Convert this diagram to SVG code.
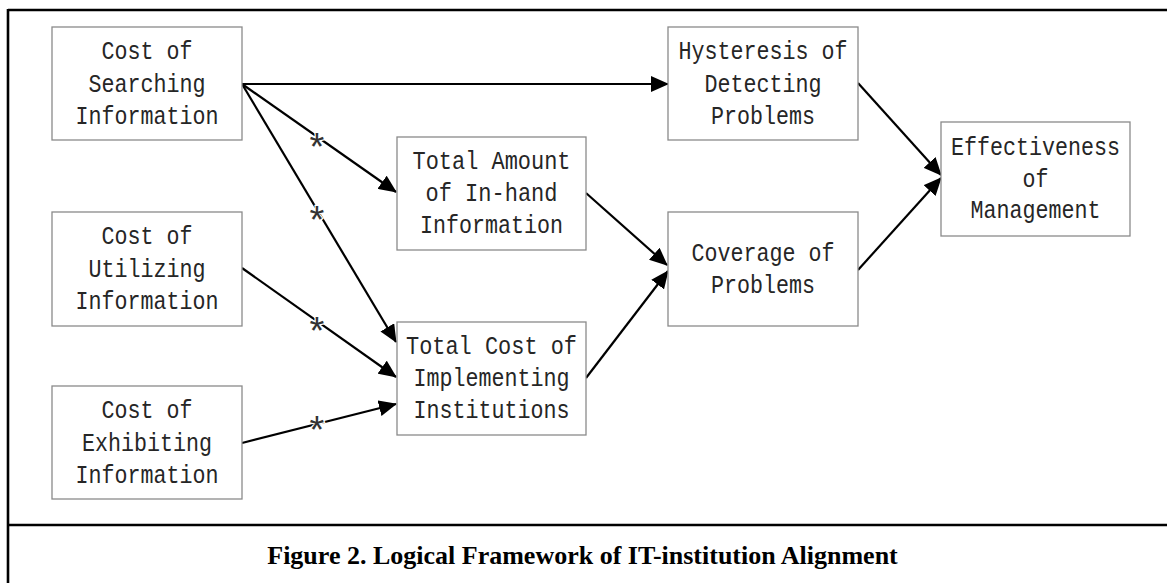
<svg xmlns="http://www.w3.org/2000/svg" width="1167" height="583" viewBox="0 0 1167 583">
  <style>
    .box { fill: #ffffff; stroke: #8a8a8a; stroke-width: 1.3; }
    .lbl { font-family: "Liberation Mono", "DejaVu Sans Mono", monospace; font-size: 26.5px; fill: #262626; text-anchor: middle; }
    .edge { fill: none; stroke: #000000; stroke-width: 2.2; marker-end: url(#head); }
    .star { font-family: "Liberation Mono", "DejaVu Sans Mono", monospace; font-size: 38px; fill: #333333; text-anchor: middle; stroke: #ffffff; stroke-width: 2.5; paint-order: stroke; }
    .frame { stroke: #000000; stroke-width: 2.6; fill: none; }
    .caption { font-family: "Liberation Serif", "Times New Roman", serif; font-weight: bold; font-size: 26px; fill: #000000; text-anchor: middle; }
  </style>
  <defs>
    <marker id="head" markerUnits="userSpaceOnUse" markerWidth="18" markerHeight="16" refX="17" refY="8" orient="auto">
      <path d="M0,0 L18,8 L0,16 z" fill="#000000"/>
    </marker>
  </defs>
  <rect width="1167" height="583" fill="#ffffff"/>

  <!-- outer frame and caption divider -->
  <g id="frame">
    <line class="frame" x1="8" y1="10" x2="1167" y2="10"/>
    <line class="frame" x1="8" y1="9" x2="8" y2="583"/>
    <line class="frame" x1="8" y1="525" x2="1167" y2="525"/>
  </g>

  <!-- connectors -->
  <g id="connectors">
    <line class="edge" x1="242" y1="84" x2="668" y2="84"/>
    <line class="edge" x1="242" y1="84" x2="396" y2="192"/>
    <line class="edge" x1="242" y1="84" x2="396" y2="342"/>
    <line class="edge" x1="242" y1="268" x2="396" y2="377"/>
    <line class="edge" x1="242" y1="443" x2="396" y2="404"/>
    <line class="edge" x1="586" y1="193" x2="667" y2="265"/>
    <line class="edge" x1="586" y1="378" x2="668" y2="271"/>
    <line class="edge" x1="858" y1="83" x2="941" y2="175"/>
    <line class="edge" x1="858" y1="270" x2="941" y2="178"/>
    <text class="star" x="317" y="161">*</text>
    <text class="star" x="317" y="234">*</text>
    <text class="star" x="317" y="345">*</text>
    <text class="star" x="317" y="444">*</text>
  </g>

  <g id="cost-searching">
    <rect class="box" x="52" y="27" width="190" height="113"/>
    <text class="lbl" x="147" y="59" textLength="91" lengthAdjust="spacingAndGlyphs">Cost of</text>
    <text class="lbl" x="147" y="91.5" textLength="117" lengthAdjust="spacingAndGlyphs">Searching</text>
    <text class="lbl" x="147" y="124" textLength="143" lengthAdjust="spacingAndGlyphs">Information</text>
  </g>

  <g id="cost-utilizing">
    <rect class="box" x="52" y="212" width="190" height="114"/>
    <text class="lbl" x="147" y="244" textLength="91" lengthAdjust="spacingAndGlyphs">Cost of</text>
    <text class="lbl" x="147" y="276.5" textLength="117" lengthAdjust="spacingAndGlyphs">Utilizing</text>
    <text class="lbl" x="147" y="309" textLength="143" lengthAdjust="spacingAndGlyphs">Information</text>
  </g>

  <g id="cost-exhibiting">
    <rect class="box" x="52" y="386" width="190" height="113"/>
    <text class="lbl" x="147" y="418" textLength="91" lengthAdjust="spacingAndGlyphs">Cost of</text>
    <text class="lbl" x="147" y="450.5" textLength="130" lengthAdjust="spacingAndGlyphs">Exhibiting</text>
    <text class="lbl" x="147" y="483" textLength="143" lengthAdjust="spacingAndGlyphs">Information</text>
  </g>

  <g id="total-amount">
    <rect class="box" x="397" y="137" width="189" height="113"/>
    <text class="lbl" x="491.5" y="168.5" textLength="158" lengthAdjust="spacingAndGlyphs">Total Amount</text>
    <text class="lbl" x="491.5" y="201" textLength="132" lengthAdjust="spacingAndGlyphs">of In-hand</text>
    <text class="lbl" x="491.5" y="233" textLength="143" lengthAdjust="spacingAndGlyphs">Information</text>
  </g>

  <g id="total-cost">
    <rect class="box" x="397" y="322" width="189" height="113"/>
    <text class="lbl" x="491.5" y="353.5" textLength="171" lengthAdjust="spacingAndGlyphs">Total Cost of</text>
    <text class="lbl" x="491.5" y="386" textLength="156" lengthAdjust="spacingAndGlyphs">Implementing</text>
    <text class="lbl" x="491.5" y="418" textLength="156" lengthAdjust="spacingAndGlyphs">Institutions</text>
  </g>

  <g id="hysteresis">
    <rect class="box" x="668" y="27" width="190" height="113"/>
    <text class="lbl" x="763" y="59" textLength="169" lengthAdjust="spacingAndGlyphs">Hysteresis of</text>
    <text class="lbl" x="763" y="91.5" textLength="117" lengthAdjust="spacingAndGlyphs">Detecting</text>
    <text class="lbl" x="763" y="124" textLength="104" lengthAdjust="spacingAndGlyphs">Problems</text>
  </g>

  <g id="coverage">
    <rect class="box" x="668" y="212" width="190" height="114"/>
    <text class="lbl" x="763" y="260.5" textLength="143" lengthAdjust="spacingAndGlyphs">Coverage of</text>
    <text class="lbl" x="763" y="293" textLength="104" lengthAdjust="spacingAndGlyphs">Problems</text>
  </g>

  <g id="effectiveness">
    <rect class="box" x="941" y="122" width="189" height="114"/>
    <text class="lbl" x="1035.5" y="155" textLength="169" lengthAdjust="spacingAndGlyphs">Effectiveness</text>
    <text class="lbl" x="1035.5" y="186.5" textLength="26" lengthAdjust="spacingAndGlyphs">of</text>
    <text class="lbl" x="1035.5" y="218" textLength="130" lengthAdjust="spacingAndGlyphs">Management</text>
  </g>

  <text class="caption" x="582.5" y="564">Figure 2. Logical Framework of IT-institution Alignment</text>
</svg>
